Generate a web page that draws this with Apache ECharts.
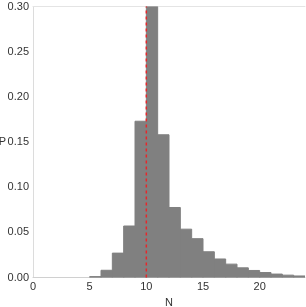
<!DOCTYPE html>
<html><head><meta charset="utf-8">
<script src="https://cdn.jsdelivr.net/npm/echarts@6/dist/echarts.min.js"></script>
<style>html,body{margin:0;padding:0;background:#fff}#c{width:306px;height:307px}</style>
</head><body><div id="c"></div>
<script>
var binStarts = [5,6,7,8,9,10,11,12,13,14,15,16,17,18,19,20,21,22,23];
var binWidth = 1;
var probs = [0.001,0.008,0.027,0.057,0.173,0.300,0.158,0.0775,0.0535,0.043,0.0285,0.0205,0.0148,0.0107,0.0078,0.0055,0.0038,0.0026,0.0017];
var refN = 10;
var yTicks = [0,0.05,0.10,0.15,0.20,0.25,0.30];
var xTicks = [0,5,10,15,20];

var data = binStarts.map(function(s,i){return [s, s+binWidth, probs[i]];});
var chart = echarts.init(document.getElementById('c'), null, {renderer:'canvas'});
var txt = {color:'#333', fontFamily:'Liberation Sans, Arial, sans-serif', fontSize:11};
chart.setOption({
  animation:false,
  grid:{left:33,right:1,top:6.5,bottom:29.5, outerBoundsMode:'none', containLabel:false},
  xAxis:[{
    type:'value', min:0, max:24, interval:5,
    name:'N', nameLocation:'middle', nameGap:20, nameMoveOverlap:false, nameTextStyle:txt,
    axisLine:{show:true,lineStyle:{color:'#d0d0d0',width:1}},
    axisTick:{show:false}, splitLine:{show:false},
    axisLabel:Object.assign({margin:4, showMaxLabel:false, formatter:function(v){return xTicks.indexOf(v)>=0?String(v):'';}}, txt)
  },{
    type:'value', position:'top', min:0, max:24,
    axisLine:{show:true,lineStyle:{color:'#e4e4e4',width:1}},
    axisTick:{show:false}, axisLabel:{show:false}, splitLine:{show:false}
  }],
  yAxis:{
    type:'value', min:0, max:0.30, interval:0.05,
    name:'P', nameLocation:'middle', nameRotate:0, nameGap:27, nameMoveOverlap:false,
    nameTextStyle:Object.assign({align:'right', verticalAlign:'middle'},txt),
    axisLine:{show:true,lineStyle:{color:'#dcdcdc',width:1}},
    axisTick:{show:false}, splitLine:{show:false},
    axisLabel:Object.assign({margin:4, formatter:function(v){return v.toFixed(2);}}, txt)
  },
  series:[{
    type:'custom', clip:true, data:data,
    renderItem:function(params, api){
      var p0 = api.coord([api.value(0), 0]);
      var p1 = api.coord([api.value(1), api.value(2)]);
      return {type:'rect', shape:{x:p0[0], y:p1[1], width:p1[0]-p0[0], height:p0[1]-p1[1]},
        style:{fill:'#808080', stroke:'#808080', lineWidth:1}};
    },
    encode:{x:[0,1], y:2}
  },{
    type:'line', data:[[refN,0],[refN,0.30]], symbol:'none', z:5,
    lineStyle:{color:'#e8262a', width:1.5, type:[3,3]}
  }]
});
</script></body></html>
